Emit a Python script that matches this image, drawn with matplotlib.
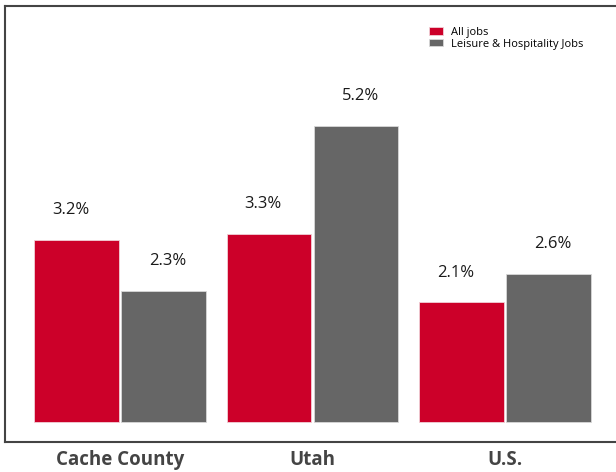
import numpy as np
import matplotlib.pyplot as plt

plt.rcParams['font.family'] = ['Open Sans', 'DejaVu Sans']

regions = ['Cache County', 'Utah', 'U.S.']
all_jobs = [3.2, 3.3, 2.1]
leisure_jobs = [2.3, 5.2, 2.6]
series_names = ['All jobs', 'Leisure & Hospitality Jobs']

red = '#cc0029'
gray = '#666666'

fig = plt.figure(figsize=(6.16, 4.72), dpi=100)
ax = fig.add_axes([5 / 616, 1 - 442 / 472, 1 - 5 / 616, 436 / 472])

x = np.arange(len(regions))
w = 0.44
off = 0.226

ax.bar(x - off, all_jobs, w, color=red, edgecolor='#f0d0d6', linewidth=0.6,
       label=series_names[0])
ax.bar(x + off, leisure_jobs, w, color=gray, edgecolor='#d8d8d8', linewidth=0.6,
       label=series_names[1])

for xi, v in zip(x - off, all_jobs):
    ax.annotate(f'{v:.1f}%', (xi, v), xytext=(-4, 21.5), textcoords='offset points',
                ha='center', va='center', fontsize=12, color='#1a1a1a')
for xi, v in zip(x + off, leisure_jobs):
    ax.annotate(f'{v:.1f}%', (xi, v), xytext=(3, 21.5), textcoords='offset points',
                ha='center', va='center', fontsize=12, color='#1a1a1a')

ax.set_xlim(-0.597, 2.577)
ax.set_ylim(-0.35, 7.30)

ax.set_xticks(x)
ax.set_xticklabels(regions, fontsize=13.5, fontweight='bold', color='#444444')
ax.tick_params(axis='x', length=0, pad=6)
ax.set_yticks([])

for s in ['left', 'top', 'bottom']:
    ax.spines[s].set_color('#444444')
    ax.spines[s].set_linewidth(1.5)
ax.spines['right'].set_visible(False)

ax.legend(loc='upper left', bbox_to_anchor=(429 / 616, 1 - 27 / 472),
          bbox_transform=fig.transFigure, frameon=False, fontsize=8,
          handlelength=1.26, handleheight=0.65, labelspacing=0.05,
          handletextpad=0.75, borderpad=0, borderaxespad=0)

fig.savefig('out.png', dpi=100)
